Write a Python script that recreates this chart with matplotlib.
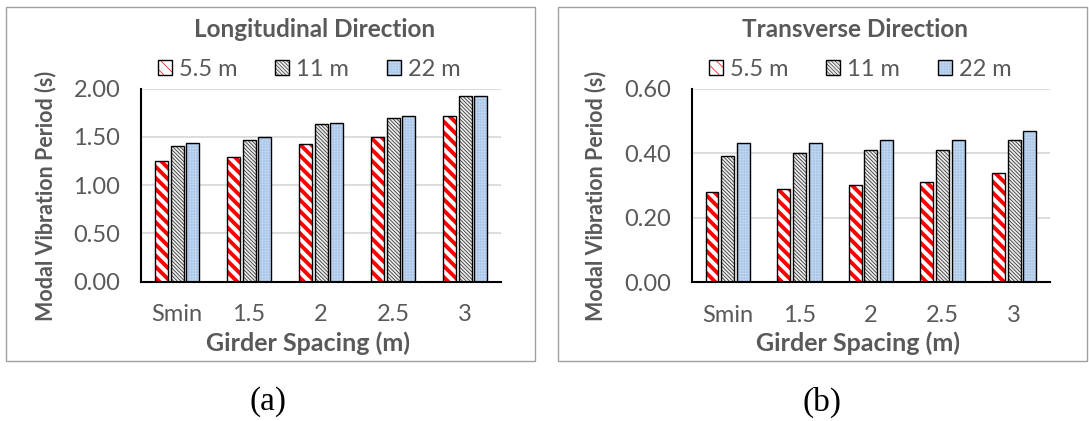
import matplotlib
matplotlib.use("Agg")
import matplotlib.pyplot as plt
from matplotlib.patches import Rectangle
from matplotlib.legend_handler import HandlerTuple
import numpy as np

plt.rcParams['font.family'] = ['Lato', 'DejaVu Sans']

# girder spacing categories and modal periods (s) per span length
spacing = ['Smin', '1.5', '2', '2.5', '3']
spans = ['5.5 m', '11 m', '22 m']
long_55 = [1.25, 1.29, 1.43, 1.50, 1.72]
long_11 = [1.41, 1.47, 1.63, 1.70, 1.92]
long_22 = [1.44, 1.50, 1.64, 1.72, 1.92]
trans_55 = [0.28, 0.29, 0.30, 0.31, 0.34]
trans_11 = [0.39, 0.40, 0.41, 0.41, 0.44]
trans_22 = [0.43, 0.43, 0.44, 0.44, 0.47]

TXT = '#595959'

# fill, hatch, hatch colour, hatch line width for each span
styles = [
    ('white', '\\\\\\', '#ff0000', 2.8),
    ('#ececec', '\\' * 9, '#3a3a3a', 0.6),
    ('#a9c5e8', '++++++', '#c4d8f0', 0.5),
]


def draw_panel(ax, series, ymax, yticks, title, tcx, lcx, xlcx, ylx):
    x = np.arange(len(spacing))
    offsets = [-0.22, 0.0, 0.22]
    for vals, off, (fc, hatch, hc, hlw) in zip(series, offsets, styles):
        plt.rcParams['hatch.linewidth'] = hlw
        ax.bar(x + off, vals, 0.18, color=fc, edgecolor=hc, hatch=hatch,
               linewidth=0, zorder=2)
        ax.bar(x + off, vals, 0.18, fill=False, edgecolor='black',
               linewidth=1.0, zorder=3)
    ax.set_xlim(-0.5, len(spacing) - 0.5)
    ax.set_ylim(0, ymax)
    ax.set_yticks(yticks)
    ax.set_yticklabels([f'{v:.2f}' for v in yticks])
    ax.set_xticks(x)
    ax.set_xticklabels(spacing)
    ax.tick_params(length=0, labelsize=17, labelcolor=TXT)
    ax.tick_params(axis='y', pad=15)
    ax.tick_params(axis='x', pad=16)
    ax.grid(axis='y', color='#d9d9d9', linewidth=1.3, zorder=0)
    ax.set_axisbelow(True)
    for s in ('top', 'right'):
        ax.spines[s].set_visible(False)
    ax.spines['left'].set_linewidth(1.5)
    ax.spines['bottom'].set_linewidth(1.5)

    fig.text(tcx, 0.931, title, ha='center', va='center', fontsize=17.5,
             fontweight='bold', color=TXT)
    fig.text(xlcx, 0.185, 'Girder Spacing (m)', ha='center', va='center',
             fontsize=18, fontweight='bold', color=TXT)
    fig.text(ylx, 0.535, 'Modal Vibration Period (s)', ha='center',
             va='center', rotation=90, fontsize=15.5, fontweight='bold',
             color=TXT)

    # legend keys: hatched fill with a black outline on top
    leg_handles = []
    for fc, hatch, hc, hlw in styles:
        plt.rcParams['hatch.linewidth'] = hlw
        fill = Rectangle((0, 0), 1, 1, facecolor=fc, edgecolor=hc,
                         hatch=hatch, linewidth=0)
        outline = Rectangle((0, 0), 1, 1, fill=False, edgecolor='black',
                            linewidth=1.0)
        leg_handles.append((fill, outline))
    leg = fig.legend(leg_handles, spans, loc='center',
                     bbox_to_anchor=(lcx, 0.836), ncol=3, frameon=False,
                     fontsize=17, handlelength=0.6, handleheight=0.6,
                     handletextpad=0.3, columnspacing=1.6,
                     handler_map={tuple: HandlerTuple(ndivide=1)})
    for t in leg.get_texts():
        t.set_color(TXT)


fig = plt.figure(figsize=(10.89, 4.21), dpi=100)

# panel frames
for x0 in (0.0055, 0.5124):
    fig.patches.append(Rectangle((x0, 0.1425), 0.4855, 0.841,
                                 transform=fig.transFigure, fill=False,
                                 edgecolor='#a0a0a0', linewidth=1.0))

ax1 = fig.add_axes([0.1295, 0.3309, 0.3306, 0.4584])
draw_panel(ax1, [long_55, long_11, long_22], 2.0,
           [0.0, 0.5, 1.0, 1.5, 2.0], 'Longitudinal Direction',
           0.289, 0.284, 0.283, 0.042)

ax2 = fig.add_axes([0.6354, 0.3295, 0.3287, 0.46])
draw_panel(ax2, [trans_55, trans_11, trans_22], 0.6,
           [0.0, 0.2, 0.4, 0.6], 'Transverse Direction',
           0.785, 0.790, 0.788, 0.547)

fig.text(0.246, 0.045, '(a)', ha='center', va='center', fontsize=24,
         family='Liberation Serif')
fig.text(0.755, 0.045, '(b)', ha='center', va='center', fontsize=24,
         family='Liberation Serif')

fig.savefig('out.png', dpi=100)
